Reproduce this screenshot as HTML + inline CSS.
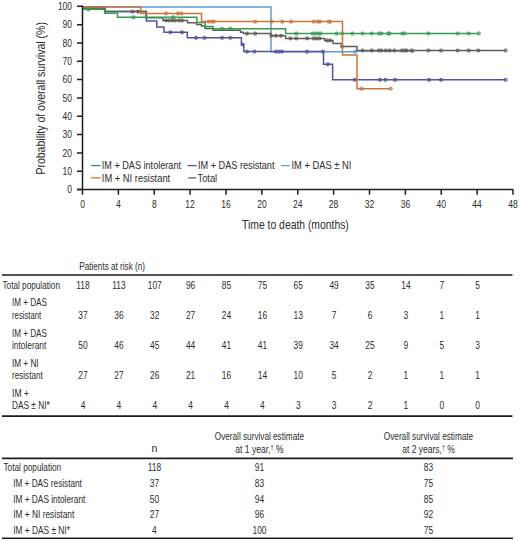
<!DOCTYPE html><html><head><meta charset="utf-8"><style>html,body{margin:0;padding:0;background:#fff;}svg{display:block;}text{font-family:"Liberation Sans",sans-serif;fill:#2c2c2c;}</style></head><body>
<svg width="520" height="541" viewBox="0 0 520 541">
<rect width="520" height="541" fill="#fff"/>
<path d="M82.5 7.0 L271.0 7.0 L271.0 51.8 L357.0 51.8 L357.0 51.0 L412.5 51.0" fill="none" stroke="#5e9fd6" stroke-width="1.5"/>
<circle cx="355" cy="51.8" r="1.6" fill="#5e9fd6" fill-opacity="0.45" stroke="#5e9fd6" stroke-width="0.9"/>
<circle cx="412.5" cy="51.0" r="1.6" fill="#5e9fd6" fill-opacity="0.45" stroke="#5e9fd6" stroke-width="0.9"/>
<path d="M82.5 7.0 L105.0 7.0 L105.0 11.6 L146.4 11.6 L146.4 21.0 L156.8 21.0 L156.8 27.0 L164.0 27.0 L164.0 32.3 L187.3 32.3 L187.3 37.8 L241.4 37.8 L241.4 44.5 L243.8 44.5 L243.8 51.6 L323.5 51.6 L323.5 64.3 L332.6 64.3 L332.6 79.8 L505.6 79.8" fill="none" stroke="#52529e" stroke-width="1.5"/>
<circle cx="132.3" cy="11.6" r="1.6" fill="#52529e" fill-opacity="0.45" stroke="#52529e" stroke-width="0.9"/>
<circle cx="170.3" cy="32.3" r="1.6" fill="#52529e" fill-opacity="0.45" stroke="#52529e" stroke-width="0.9"/>
<circle cx="182" cy="32.3" r="1.6" fill="#52529e" fill-opacity="0.45" stroke="#52529e" stroke-width="0.9"/>
<circle cx="196" cy="37.8" r="1.6" fill="#52529e" fill-opacity="0.45" stroke="#52529e" stroke-width="0.9"/>
<circle cx="204.5" cy="37.8" r="1.6" fill="#52529e" fill-opacity="0.45" stroke="#52529e" stroke-width="0.9"/>
<circle cx="222.2" cy="37.8" r="1.6" fill="#52529e" fill-opacity="0.45" stroke="#52529e" stroke-width="0.9"/>
<circle cx="230.3" cy="37.8" r="1.6" fill="#52529e" fill-opacity="0.45" stroke="#52529e" stroke-width="0.9"/>
<circle cx="242.6" cy="44.5" r="1.6" fill="#52529e" fill-opacity="0.45" stroke="#52529e" stroke-width="0.9"/>
<circle cx="247.1" cy="51.6" r="1.6" fill="#52529e" fill-opacity="0.45" stroke="#52529e" stroke-width="0.9"/>
<circle cx="254.5" cy="51.6" r="1.6" fill="#52529e" fill-opacity="0.45" stroke="#52529e" stroke-width="0.9"/>
<circle cx="276" cy="51.6" r="1.6" fill="#52529e" fill-opacity="0.45" stroke="#52529e" stroke-width="0.9"/>
<circle cx="279" cy="51.6" r="1.6" fill="#52529e" fill-opacity="0.45" stroke="#52529e" stroke-width="0.9"/>
<circle cx="282" cy="51.6" r="1.6" fill="#52529e" fill-opacity="0.45" stroke="#52529e" stroke-width="0.9"/>
<circle cx="307.1" cy="51.6" r="1.6" fill="#52529e" fill-opacity="0.45" stroke="#52529e" stroke-width="0.9"/>
<circle cx="323.0" cy="51.6" r="1.6" fill="#52529e" fill-opacity="0.45" stroke="#52529e" stroke-width="0.9"/>
<circle cx="327.8" cy="64.3" r="1.6" fill="#52529e" fill-opacity="0.45" stroke="#52529e" stroke-width="0.9"/>
<circle cx="354.6" cy="79.8" r="1.6" fill="#52529e" fill-opacity="0.45" stroke="#52529e" stroke-width="0.9"/>
<circle cx="380" cy="79.8" r="1.6" fill="#52529e" fill-opacity="0.45" stroke="#52529e" stroke-width="0.9"/>
<circle cx="385.5" cy="79.8" r="1.6" fill="#52529e" fill-opacity="0.45" stroke="#52529e" stroke-width="0.9"/>
<circle cx="395.2" cy="79.8" r="1.6" fill="#52529e" fill-opacity="0.45" stroke="#52529e" stroke-width="0.9"/>
<circle cx="429" cy="79.8" r="1.6" fill="#52529e" fill-opacity="0.45" stroke="#52529e" stroke-width="0.9"/>
<circle cx="441" cy="79.8" r="1.6" fill="#52529e" fill-opacity="0.45" stroke="#52529e" stroke-width="0.9"/>
<circle cx="505.6" cy="79.8" r="1.6" fill="#52529e" fill-opacity="0.45" stroke="#52529e" stroke-width="0.9"/>
<path d="M82.5 7.0 L84.0 7.0 L84.0 8.3 L105.0 8.3 L105.0 11.6 L146.0 11.6 L146.0 17.8 L163.0 17.8 L163.0 20.4 L187.5 20.4 L187.5 22.7 L196.5 22.7 L196.5 24.4 L201.5 24.4 L201.5 26.0 L205.0 26.0 L205.0 28.5 L213.0 28.5 L213.0 30.3 L240.5 30.3 L240.5 32.3 L243.5 32.3 L243.5 33.6 L270.8 33.6 L270.8 35.7 L285.6 35.7 L285.6 38.4 L324.6 38.4 L324.6 40.4 L333.0 40.4 L333.0 43.4 L342.0 43.4 L342.0 46.5 L357.0 46.5 L357.0 50.5 L505.6 50.5" fill="none" stroke="#625c58" stroke-width="1.5"/>
<circle cx="138" cy="11.6" r="1.6" fill="#625c58" fill-opacity="0.45" stroke="#625c58" stroke-width="0.9"/>
<circle cx="166" cy="20.4" r="1.6" fill="#625c58" fill-opacity="0.45" stroke="#625c58" stroke-width="0.9"/>
<circle cx="169" cy="20.4" r="1.6" fill="#625c58" fill-opacity="0.45" stroke="#625c58" stroke-width="0.9"/>
<circle cx="172" cy="20.4" r="1.6" fill="#625c58" fill-opacity="0.45" stroke="#625c58" stroke-width="0.9"/>
<circle cx="175" cy="20.4" r="1.6" fill="#625c58" fill-opacity="0.45" stroke="#625c58" stroke-width="0.9"/>
<circle cx="179" cy="20.4" r="1.6" fill="#625c58" fill-opacity="0.45" stroke="#625c58" stroke-width="0.9"/>
<circle cx="182" cy="20.4" r="1.6" fill="#625c58" fill-opacity="0.45" stroke="#625c58" stroke-width="0.9"/>
<circle cx="247" cy="33.6" r="1.6" fill="#625c58" fill-opacity="0.45" stroke="#625c58" stroke-width="0.9"/>
<circle cx="255.2" cy="33.6" r="1.6" fill="#625c58" fill-opacity="0.45" stroke="#625c58" stroke-width="0.9"/>
<circle cx="271.4" cy="35.7" r="1.6" fill="#625c58" fill-opacity="0.45" stroke="#625c58" stroke-width="0.9"/>
<circle cx="276" cy="35.7" r="1.6" fill="#625c58" fill-opacity="0.45" stroke="#625c58" stroke-width="0.9"/>
<circle cx="281" cy="35.7" r="1.6" fill="#625c58" fill-opacity="0.45" stroke="#625c58" stroke-width="0.9"/>
<circle cx="290.3" cy="38.4" r="1.6" fill="#625c58" fill-opacity="0.45" stroke="#625c58" stroke-width="0.9"/>
<circle cx="296.3" cy="38.4" r="1.6" fill="#625c58" fill-opacity="0.45" stroke="#625c58" stroke-width="0.9"/>
<circle cx="307.1" cy="38.4" r="1.6" fill="#625c58" fill-opacity="0.45" stroke="#625c58" stroke-width="0.9"/>
<circle cx="313.8" cy="38.4" r="1.6" fill="#625c58" fill-opacity="0.45" stroke="#625c58" stroke-width="0.9"/>
<circle cx="316.5" cy="38.4" r="1.6" fill="#625c58" fill-opacity="0.45" stroke="#625c58" stroke-width="0.9"/>
<circle cx="319.5" cy="38.4" r="1.6" fill="#625c58" fill-opacity="0.45" stroke="#625c58" stroke-width="0.9"/>
<circle cx="327" cy="40.4" r="1.6" fill="#625c58" fill-opacity="0.45" stroke="#625c58" stroke-width="0.9"/>
<circle cx="330" cy="40.4" r="1.6" fill="#625c58" fill-opacity="0.45" stroke="#625c58" stroke-width="0.9"/>
<circle cx="342" cy="46.5" r="1.6" fill="#625c58" fill-opacity="0.45" stroke="#625c58" stroke-width="0.9"/>
<circle cx="362.5" cy="50.5" r="1.6" fill="#625c58" fill-opacity="0.45" stroke="#625c58" stroke-width="0.9"/>
<circle cx="371.7" cy="50.5" r="1.6" fill="#625c58" fill-opacity="0.45" stroke="#625c58" stroke-width="0.9"/>
<circle cx="379" cy="50.5" r="1.6" fill="#625c58" fill-opacity="0.45" stroke="#625c58" stroke-width="0.9"/>
<circle cx="381.5" cy="50.5" r="1.6" fill="#625c58" fill-opacity="0.45" stroke="#625c58" stroke-width="0.9"/>
<circle cx="385.8" cy="50.5" r="1.6" fill="#625c58" fill-opacity="0.45" stroke="#625c58" stroke-width="0.9"/>
<circle cx="389.6" cy="50.5" r="1.6" fill="#625c58" fill-opacity="0.45" stroke="#625c58" stroke-width="0.9"/>
<circle cx="394.4" cy="50.5" r="1.6" fill="#625c58" fill-opacity="0.45" stroke="#625c58" stroke-width="0.9"/>
<circle cx="402" cy="50.5" r="1.6" fill="#625c58" fill-opacity="0.45" stroke="#625c58" stroke-width="0.9"/>
<circle cx="404.5" cy="50.5" r="1.6" fill="#625c58" fill-opacity="0.45" stroke="#625c58" stroke-width="0.9"/>
<circle cx="406.5" cy="50.5" r="1.6" fill="#625c58" fill-opacity="0.45" stroke="#625c58" stroke-width="0.9"/>
<circle cx="411.7" cy="50.5" r="1.6" fill="#625c58" fill-opacity="0.45" stroke="#625c58" stroke-width="0.9"/>
<circle cx="428.4" cy="50.5" r="1.6" fill="#625c58" fill-opacity="0.45" stroke="#625c58" stroke-width="0.9"/>
<circle cx="441" cy="50.5" r="1.6" fill="#625c58" fill-opacity="0.45" stroke="#625c58" stroke-width="0.9"/>
<circle cx="457.6" cy="50.5" r="1.6" fill="#625c58" fill-opacity="0.45" stroke="#625c58" stroke-width="0.9"/>
<circle cx="468.6" cy="50.5" r="1.6" fill="#625c58" fill-opacity="0.45" stroke="#625c58" stroke-width="0.9"/>
<circle cx="478.3" cy="50.5" r="1.6" fill="#625c58" fill-opacity="0.45" stroke="#625c58" stroke-width="0.9"/>
<circle cx="505.6" cy="50.5" r="1.6" fill="#625c58" fill-opacity="0.45" stroke="#625c58" stroke-width="0.9"/>
<path d="M82.5 7.0 L84.0 7.0 L84.0 9.3 L104.6 9.3 L104.6 13.2 L117.5 13.2 L117.5 17.3 L196.9 17.3 L196.9 22.5 L205.2 22.5 L205.2 26.5 L213.0 26.5 L213.0 28.8 L285.6 28.8 L285.6 33.5 L478.8 33.5" fill="none" stroke="#349c55" stroke-width="1.5"/>
<circle cx="88.5" cy="9.3" r="1.6" fill="#349c55" fill-opacity="0.45" stroke="#349c55" stroke-width="0.9"/>
<circle cx="133.5" cy="17.3" r="1.6" fill="#349c55" fill-opacity="0.45" stroke="#349c55" stroke-width="0.9"/>
<circle cx="173" cy="17.3" r="1.6" fill="#349c55" fill-opacity="0.45" stroke="#349c55" stroke-width="0.9"/>
<circle cx="222" cy="28.8" r="1.6" fill="#349c55" fill-opacity="0.45" stroke="#349c55" stroke-width="0.9"/>
<circle cx="230.3" cy="28.8" r="1.6" fill="#349c55" fill-opacity="0.45" stroke="#349c55" stroke-width="0.9"/>
<circle cx="296.3" cy="33.5" r="1.6" fill="#349c55" fill-opacity="0.45" stroke="#349c55" stroke-width="0.9"/>
<circle cx="312.5" cy="33.5" r="1.6" fill="#349c55" fill-opacity="0.45" stroke="#349c55" stroke-width="0.9"/>
<circle cx="315.5" cy="33.5" r="1.6" fill="#349c55" fill-opacity="0.45" stroke="#349c55" stroke-width="0.9"/>
<circle cx="318.5" cy="33.5" r="1.6" fill="#349c55" fill-opacity="0.45" stroke="#349c55" stroke-width="0.9"/>
<circle cx="320.6" cy="33.5" r="1.6" fill="#349c55" fill-opacity="0.45" stroke="#349c55" stroke-width="0.9"/>
<circle cx="336.6" cy="33.5" r="1.6" fill="#349c55" fill-opacity="0.45" stroke="#349c55" stroke-width="0.9"/>
<circle cx="342.2" cy="33.5" r="1.6" fill="#349c55" fill-opacity="0.45" stroke="#349c55" stroke-width="0.9"/>
<circle cx="352.3" cy="33.5" r="1.6" fill="#349c55" fill-opacity="0.45" stroke="#349c55" stroke-width="0.9"/>
<circle cx="362.5" cy="33.5" r="1.6" fill="#349c55" fill-opacity="0.45" stroke="#349c55" stroke-width="0.9"/>
<circle cx="371.7" cy="33.5" r="1.6" fill="#349c55" fill-opacity="0.45" stroke="#349c55" stroke-width="0.9"/>
<circle cx="379.1" cy="33.5" r="1.6" fill="#349c55" fill-opacity="0.45" stroke="#349c55" stroke-width="0.9"/>
<circle cx="381.5" cy="33.5" r="1.6" fill="#349c55" fill-opacity="0.45" stroke="#349c55" stroke-width="0.9"/>
<circle cx="388.3" cy="33.5" r="1.6" fill="#349c55" fill-opacity="0.45" stroke="#349c55" stroke-width="0.9"/>
<circle cx="389.6" cy="33.5" r="1.6" fill="#349c55" fill-opacity="0.45" stroke="#349c55" stroke-width="0.9"/>
<circle cx="402.2" cy="33.5" r="1.6" fill="#349c55" fill-opacity="0.45" stroke="#349c55" stroke-width="0.9"/>
<circle cx="404.5" cy="33.5" r="1.6" fill="#349c55" fill-opacity="0.45" stroke="#349c55" stroke-width="0.9"/>
<circle cx="428.4" cy="33.5" r="1.6" fill="#349c55" fill-opacity="0.45" stroke="#349c55" stroke-width="0.9"/>
<circle cx="457.6" cy="33.5" r="1.6" fill="#349c55" fill-opacity="0.45" stroke="#349c55" stroke-width="0.9"/>
<circle cx="468.6" cy="33.5" r="1.6" fill="#349c55" fill-opacity="0.45" stroke="#349c55" stroke-width="0.9"/>
<circle cx="478.8" cy="33.5" r="1.6" fill="#349c55" fill-opacity="0.45" stroke="#349c55" stroke-width="0.9"/>
<path d="M82.5 7.0 L140.8 7.0 L140.8 13.4 L201.5 13.4 L201.5 21.6 L342.5 21.6 L342.5 55.0 L357.0 55.0 L357.0 88.7 L390.7 88.7" fill="none" stroke="#d0743c" stroke-width="1.5"/>
<circle cx="166" cy="13.4" r="1.6" fill="#d0743c" fill-opacity="0.45" stroke="#d0743c" stroke-width="0.9"/>
<circle cx="178" cy="13.4" r="1.6" fill="#d0743c" fill-opacity="0.45" stroke="#d0743c" stroke-width="0.9"/>
<circle cx="181.3" cy="13.4" r="1.6" fill="#d0743c" fill-opacity="0.45" stroke="#d0743c" stroke-width="0.9"/>
<circle cx="208.5" cy="21.6" r="1.6" fill="#d0743c" fill-opacity="0.45" stroke="#d0743c" stroke-width="0.9"/>
<circle cx="211.5" cy="21.6" r="1.6" fill="#d0743c" fill-opacity="0.45" stroke="#d0743c" stroke-width="0.9"/>
<circle cx="213.8" cy="21.6" r="1.6" fill="#d0743c" fill-opacity="0.45" stroke="#d0743c" stroke-width="0.9"/>
<circle cx="255.2" cy="21.6" r="1.6" fill="#d0743c" fill-opacity="0.45" stroke="#d0743c" stroke-width="0.9"/>
<circle cx="271.4" cy="21.6" r="1.6" fill="#d0743c" fill-opacity="0.45" stroke="#d0743c" stroke-width="0.9"/>
<circle cx="282.2" cy="21.6" r="1.6" fill="#d0743c" fill-opacity="0.45" stroke="#d0743c" stroke-width="0.9"/>
<circle cx="291" cy="21.6" r="1.6" fill="#d0743c" fill-opacity="0.45" stroke="#d0743c" stroke-width="0.9"/>
<circle cx="313.8" cy="21.6" r="1.6" fill="#d0743c" fill-opacity="0.45" stroke="#d0743c" stroke-width="0.9"/>
<circle cx="317.9" cy="21.6" r="1.6" fill="#d0743c" fill-opacity="0.45" stroke="#d0743c" stroke-width="0.9"/>
<circle cx="320" cy="21.6" r="1.6" fill="#d0743c" fill-opacity="0.45" stroke="#d0743c" stroke-width="0.9"/>
<circle cx="328.6" cy="21.6" r="1.6" fill="#d0743c" fill-opacity="0.45" stroke="#d0743c" stroke-width="0.9"/>
<circle cx="330.2" cy="21.6" r="1.6" fill="#d0743c" fill-opacity="0.45" stroke="#d0743c" stroke-width="0.9"/>
<circle cx="361.6" cy="88.7" r="1.6" fill="#d0743c" fill-opacity="0.45" stroke="#d0743c" stroke-width="0.9"/>
<circle cx="390.7" cy="88.7" r="1.6" fill="#d0743c" fill-opacity="0.45" stroke="#d0743c" stroke-width="0.9"/>
<path d="M82.5 5.600000000000011 L82.5 189.6 M77.0 189.6 L513.1 189.6" fill="none" stroke="#1e1e1e" stroke-width="1.5"/>
<path d="M77.0 189.60 L82.5 189.60 M77.0 171.27 L82.5 171.27 M77.0 152.94 L82.5 152.94 M77.0 134.61 L82.5 134.61 M77.0 116.28 L82.5 116.28 M77.0 97.95 L82.5 97.95 M77.0 79.62 L82.5 79.62 M77.0 61.29 L82.5 61.29 M77.0 42.96 L82.5 42.96 M77.0 24.63 L82.5 24.63 M77.0 6.30 L82.5 6.30 M82.50 189.6 L82.50 194.79999999999998 M118.38 189.6 L118.38 194.79999999999998 M154.25 189.6 L154.25 194.79999999999998 M190.12 189.6 L190.12 194.79999999999998 M226.00 189.6 L226.00 194.79999999999998 M261.88 189.6 L261.88 194.79999999999998 M297.75 189.6 L297.75 194.79999999999998 M333.62 189.6 L333.62 194.79999999999998 M369.50 189.6 L369.50 194.79999999999998 M405.38 189.6 L405.38 194.79999999999998 M441.25 189.6 L441.25 194.79999999999998 M477.12 189.6 L477.12 194.79999999999998 M513.00 189.6 L513.00 194.79999999999998 " fill="none" stroke="#1e1e1e" stroke-width="1.5"/>
<text transform="translate(72.0,193.4) scale(0.8,1)" font-size="10.6" text-anchor="end">0</text>
<text transform="translate(72.0,175.07) scale(0.8,1)" font-size="10.6" text-anchor="end">10</text>
<text transform="translate(72.0,156.74) scale(0.8,1)" font-size="10.6" text-anchor="end">20</text>
<text transform="translate(72.0,138.41) scale(0.8,1)" font-size="10.6" text-anchor="end">30</text>
<text transform="translate(72.0,120.08) scale(0.8,1)" font-size="10.6" text-anchor="end">40</text>
<text transform="translate(72.0,101.75) scale(0.8,1)" font-size="10.6" text-anchor="end">50</text>
<text transform="translate(72.0,83.42) scale(0.8,1)" font-size="10.6" text-anchor="end">60</text>
<text transform="translate(72.0,65.09) scale(0.8,1)" font-size="10.6" text-anchor="end">70</text>
<text transform="translate(72.0,46.76) scale(0.8,1)" font-size="10.6" text-anchor="end">80</text>
<text transform="translate(72.0,28.43) scale(0.8,1)" font-size="10.6" text-anchor="end">90</text>
<text transform="translate(72.0,10.1) scale(0.8,1)" font-size="10.6" text-anchor="end">100</text>
<text transform="translate(82.5,207.7) scale(0.8,1)" font-size="10.7" text-anchor="middle">0</text>
<text transform="translate(118.38,207.7) scale(0.8,1)" font-size="10.7" text-anchor="middle">4</text>
<text transform="translate(154.25,207.7) scale(0.8,1)" font-size="10.7" text-anchor="middle">8</text>
<text transform="translate(190.12,207.7) scale(0.8,1)" font-size="10.7" text-anchor="middle">12</text>
<text transform="translate(226.0,207.7) scale(0.8,1)" font-size="10.7" text-anchor="middle">16</text>
<text transform="translate(261.88,207.7) scale(0.8,1)" font-size="10.7" text-anchor="middle">20</text>
<text transform="translate(297.75,207.7) scale(0.8,1)" font-size="10.7" text-anchor="middle">24</text>
<text transform="translate(333.62,207.7) scale(0.8,1)" font-size="10.7" text-anchor="middle">28</text>
<text transform="translate(369.5,207.7) scale(0.8,1)" font-size="10.7" text-anchor="middle">32</text>
<text transform="translate(405.38,207.7) scale(0.8,1)" font-size="10.7" text-anchor="middle">36</text>
<text transform="translate(441.25,207.7) scale(0.8,1)" font-size="10.7" text-anchor="middle">40</text>
<text transform="translate(477.12,207.7) scale(0.8,1)" font-size="10.7" text-anchor="middle">44</text>
<text transform="translate(513.0,207.7) scale(0.8,1)" font-size="10.7" text-anchor="middle">48</text>
<g transform="translate(44.9,174.6) rotate(-90)"><text x="0" y="0" font-size="12.4" text-anchor="start" textLength="152.5" lengthAdjust="spacingAndGlyphs">Probability of overall survival (%)</text></g>
<text x="242.1" y="228.7" font-size="12.5" text-anchor="start" textLength="106.7" lengthAdjust="spacingAndGlyphs">Time to death (months)</text>
<path d="M91 165.6 L100.6 165.6" stroke="#349c55" stroke-width="1.3"/>
<text x="101.8" y="169.2" font-size="10.3" text-anchor="start" textLength="79.2" lengthAdjust="spacingAndGlyphs">IM + DAS intolerant</text>
<path d="M187.6 165.6 L196.6 165.6" stroke="#52529e" stroke-width="1.3"/>
<text x="198.0" y="169.2" font-size="10.3" text-anchor="start" textLength="76.5" lengthAdjust="spacingAndGlyphs">IM + DAS resistant</text>
<path d="M281 165.6 L290 165.6" stroke="#5e9fd6" stroke-width="1.3"/>
<text x="291.5" y="169.2" font-size="10.3" text-anchor="start" textLength="59.8" lengthAdjust="spacingAndGlyphs">IM + DAS ± NI</text>
<path d="M91 177.9 L100.6 177.9" stroke="#d0743c" stroke-width="1.3"/>
<text x="101.8" y="181.6" font-size="10.3" text-anchor="start" textLength="68.4" lengthAdjust="spacingAndGlyphs">IM + NI resistant</text>
<path d="M188.3 177.9 L196.2 177.9" stroke="#625c58" stroke-width="1.3"/>
<text x="197.5" y="181.6" font-size="10.3" text-anchor="start" textLength="19.6" lengthAdjust="spacingAndGlyphs">Total</text>
<text x="79.25" y="269.8" font-size="10.5" text-anchor="start" textLength="65.75" lengthAdjust="spacingAndGlyphs">Patients at risk (n)</text>
<path d="M2 275.0 L512.5 275.0 M2 416.1 L512.5 416.1" stroke="#1e1e1e" stroke-width="1.6"/>
<text x="2.5" y="289.1" font-size="10.5" text-anchor="start" textLength="57.5" lengthAdjust="spacingAndGlyphs">Total population</text>
<text transform="translate(83.0,289.1) scale(0.8,1)" font-size="10.5" text-anchor="middle">118</text>
<text transform="translate(118.88,289.1) scale(0.8,1)" font-size="10.5" text-anchor="middle">113</text>
<text transform="translate(154.75,289.1) scale(0.8,1)" font-size="10.5" text-anchor="middle">107</text>
<text transform="translate(190.62,289.1) scale(0.8,1)" font-size="10.5" text-anchor="middle">96</text>
<text transform="translate(226.5,289.1) scale(0.8,1)" font-size="10.5" text-anchor="middle">85</text>
<text transform="translate(262.38,289.1) scale(0.8,1)" font-size="10.5" text-anchor="middle">75</text>
<text transform="translate(298.25,289.1) scale(0.8,1)" font-size="10.5" text-anchor="middle">65</text>
<text transform="translate(334.12,289.1) scale(0.8,1)" font-size="10.5" text-anchor="middle">49</text>
<text transform="translate(370.0,289.1) scale(0.8,1)" font-size="10.5" text-anchor="middle">35</text>
<text transform="translate(405.88,289.1) scale(0.8,1)" font-size="10.5" text-anchor="middle">14</text>
<text transform="translate(441.75,289.1) scale(0.8,1)" font-size="10.5" text-anchor="middle">7</text>
<text transform="translate(477.62,289.1) scale(0.8,1)" font-size="10.5" text-anchor="middle">5</text>
<text x="12" y="306.3" font-size="10.5" text-anchor="start" textLength="34.8" lengthAdjust="spacingAndGlyphs">IM + DAS</text>
<text x="12" y="318.7" font-size="10.5" text-anchor="start" textLength="29.25" lengthAdjust="spacingAndGlyphs">resistant</text>
<text transform="translate(83.0,318.7) scale(0.8,1)" font-size="10.5" text-anchor="middle">37</text>
<text transform="translate(118.88,318.7) scale(0.8,1)" font-size="10.5" text-anchor="middle">36</text>
<text transform="translate(154.75,318.7) scale(0.8,1)" font-size="10.5" text-anchor="middle">32</text>
<text transform="translate(190.62,318.7) scale(0.8,1)" font-size="10.5" text-anchor="middle">27</text>
<text transform="translate(226.5,318.7) scale(0.8,1)" font-size="10.5" text-anchor="middle">24</text>
<text transform="translate(262.38,318.7) scale(0.8,1)" font-size="10.5" text-anchor="middle">16</text>
<text transform="translate(298.25,318.7) scale(0.8,1)" font-size="10.5" text-anchor="middle">13</text>
<text transform="translate(334.12,318.7) scale(0.8,1)" font-size="10.5" text-anchor="middle">7</text>
<text transform="translate(370.0,318.7) scale(0.8,1)" font-size="10.5" text-anchor="middle">6</text>
<text transform="translate(405.88,318.7) scale(0.8,1)" font-size="10.5" text-anchor="middle">3</text>
<text transform="translate(441.75,318.7) scale(0.8,1)" font-size="10.5" text-anchor="middle">1</text>
<text transform="translate(477.62,318.7) scale(0.8,1)" font-size="10.5" text-anchor="middle">1</text>
<text x="12" y="336.5" font-size="10.5" text-anchor="start" textLength="34.8" lengthAdjust="spacingAndGlyphs">IM + DAS</text>
<text x="12" y="349.0" font-size="10.5" text-anchor="start" textLength="34.3" lengthAdjust="spacingAndGlyphs">intolerant</text>
<text transform="translate(83.0,349.0) scale(0.8,1)" font-size="10.5" text-anchor="middle">50</text>
<text transform="translate(118.88,349.0) scale(0.8,1)" font-size="10.5" text-anchor="middle">46</text>
<text transform="translate(154.75,349.0) scale(0.8,1)" font-size="10.5" text-anchor="middle">45</text>
<text transform="translate(190.62,349.0) scale(0.8,1)" font-size="10.5" text-anchor="middle">44</text>
<text transform="translate(226.5,349.0) scale(0.8,1)" font-size="10.5" text-anchor="middle">41</text>
<text transform="translate(262.38,349.0) scale(0.8,1)" font-size="10.5" text-anchor="middle">41</text>
<text transform="translate(298.25,349.0) scale(0.8,1)" font-size="10.5" text-anchor="middle">39</text>
<text transform="translate(334.12,349.0) scale(0.8,1)" font-size="10.5" text-anchor="middle">34</text>
<text transform="translate(370.0,349.0) scale(0.8,1)" font-size="10.5" text-anchor="middle">25</text>
<text transform="translate(405.88,349.0) scale(0.8,1)" font-size="10.5" text-anchor="middle">9</text>
<text transform="translate(441.75,349.0) scale(0.8,1)" font-size="10.5" text-anchor="middle">5</text>
<text transform="translate(477.62,349.0) scale(0.8,1)" font-size="10.5" text-anchor="middle">3</text>
<text x="12" y="366.6" font-size="10.5" text-anchor="start" textLength="26.6" lengthAdjust="spacingAndGlyphs">IM + NI</text>
<text x="12" y="379.0" font-size="10.5" text-anchor="start" textLength="30.7" lengthAdjust="spacingAndGlyphs">resistant</text>
<text transform="translate(83.0,379.0) scale(0.8,1)" font-size="10.5" text-anchor="middle">27</text>
<text transform="translate(118.88,379.0) scale(0.8,1)" font-size="10.5" text-anchor="middle">27</text>
<text transform="translate(154.75,379.0) scale(0.8,1)" font-size="10.5" text-anchor="middle">26</text>
<text transform="translate(190.62,379.0) scale(0.8,1)" font-size="10.5" text-anchor="middle">21</text>
<text transform="translate(226.5,379.0) scale(0.8,1)" font-size="10.5" text-anchor="middle">16</text>
<text transform="translate(262.38,379.0) scale(0.8,1)" font-size="10.5" text-anchor="middle">14</text>
<text transform="translate(298.25,379.0) scale(0.8,1)" font-size="10.5" text-anchor="middle">10</text>
<text transform="translate(334.12,379.0) scale(0.8,1)" font-size="10.5" text-anchor="middle">5</text>
<text transform="translate(370.0,379.0) scale(0.8,1)" font-size="10.5" text-anchor="middle">2</text>
<text transform="translate(405.88,379.0) scale(0.8,1)" font-size="10.5" text-anchor="middle">1</text>
<text transform="translate(441.75,379.0) scale(0.8,1)" font-size="10.5" text-anchor="middle">1</text>
<text transform="translate(477.62,379.0) scale(0.8,1)" font-size="10.5" text-anchor="middle">1</text>
<text x="12" y="396.6" font-size="10.5" text-anchor="start" textLength="16.9" lengthAdjust="spacingAndGlyphs">IM +</text>
<text x="12" y="409.0" font-size="10.5" text-anchor="start" textLength="37.7" lengthAdjust="spacingAndGlyphs">DAS ± NI*</text>
<text transform="translate(83.0,409.0) scale(0.8,1)" font-size="10.5" text-anchor="middle">4</text>
<text transform="translate(118.88,409.0) scale(0.8,1)" font-size="10.5" text-anchor="middle">4</text>
<text transform="translate(154.75,409.0) scale(0.8,1)" font-size="10.5" text-anchor="middle">4</text>
<text transform="translate(190.62,409.0) scale(0.8,1)" font-size="10.5" text-anchor="middle">4</text>
<text transform="translate(226.5,409.0) scale(0.8,1)" font-size="10.5" text-anchor="middle">4</text>
<text transform="translate(262.38,409.0) scale(0.8,1)" font-size="10.5" text-anchor="middle">4</text>
<text transform="translate(298.25,409.0) scale(0.8,1)" font-size="10.5" text-anchor="middle">3</text>
<text transform="translate(334.12,409.0) scale(0.8,1)" font-size="10.5" text-anchor="middle">3</text>
<text transform="translate(370.0,409.0) scale(0.8,1)" font-size="10.5" text-anchor="middle">2</text>
<text transform="translate(405.88,409.0) scale(0.8,1)" font-size="10.5" text-anchor="middle">1</text>
<text transform="translate(441.75,409.0) scale(0.8,1)" font-size="10.5" text-anchor="middle">0</text>
<text transform="translate(477.62,409.0) scale(0.8,1)" font-size="10.5" text-anchor="middle">0</text>
<text x="154.3" y="451.7" font-size="10.5" text-anchor="middle">n</text>
<text x="214.75" y="439.8" font-size="10.5" text-anchor="start" textLength="89.3" lengthAdjust="spacingAndGlyphs">Overall survival estimate</text>
<text x="235.2" y="453.0" font-size="10.5" textLength="48.4" lengthAdjust="spacingAndGlyphs">at 1 year,<tspan font-size="6.5" dy="-3.5">†</tspan><tspan dy="3.5"> %</tspan></text>
<text x="383.85" y="439.8" font-size="10.5" text-anchor="start" textLength="89.3" lengthAdjust="spacingAndGlyphs">Overall survival estimate</text>
<text x="402.25" y="453.0" font-size="10.5" textLength="52.5" lengthAdjust="spacingAndGlyphs">at 2 years,<tspan font-size="6.5" dy="-3.5">†</tspan><tspan dy="3.5"> %</tspan></text>
<path d="M2 458.4 L513 458.4 M2 538.3 L513 538.3" stroke="#1e1e1e" stroke-width="1.6"/>
<text x="3.5" y="470.9" font-size="10.5" text-anchor="start" textLength="57.7" lengthAdjust="spacingAndGlyphs">Total population</text>
<text transform="translate(154.4,470.9) scale(0.8,1)" font-size="10.5" text-anchor="middle">118</text>
<text transform="translate(259.5,470.9) scale(0.8,1)" font-size="10.5" text-anchor="middle">91</text>
<text transform="translate(428.4,470.9) scale(0.8,1)" font-size="10.5" text-anchor="middle">83</text>
<text x="13.2" y="486.9" font-size="10.5" text-anchor="start" textLength="68.7" lengthAdjust="spacingAndGlyphs">IM + DAS resistant</text>
<text transform="translate(154.4,486.9) scale(0.8,1)" font-size="10.5" text-anchor="middle">37</text>
<text transform="translate(259.5,486.9) scale(0.8,1)" font-size="10.5" text-anchor="middle">83</text>
<text transform="translate(428.4,486.9) scale(0.8,1)" font-size="10.5" text-anchor="middle">75</text>
<text x="13.2" y="502.7" font-size="10.5" text-anchor="start" textLength="72.2" lengthAdjust="spacingAndGlyphs">IM + DAS intolerant</text>
<text transform="translate(154.4,502.7) scale(0.8,1)" font-size="10.5" text-anchor="middle">50</text>
<text transform="translate(259.5,502.7) scale(0.8,1)" font-size="10.5" text-anchor="middle">94</text>
<text transform="translate(428.4,502.7) scale(0.8,1)" font-size="10.5" text-anchor="middle">85</text>
<text x="13.2" y="518.4" font-size="10.5" text-anchor="start" textLength="61.1" lengthAdjust="spacingAndGlyphs">IM + NI resistant</text>
<text transform="translate(154.4,518.4) scale(0.8,1)" font-size="10.5" text-anchor="middle">27</text>
<text transform="translate(259.5,518.4) scale(0.8,1)" font-size="10.5" text-anchor="middle">96</text>
<text transform="translate(428.4,518.4) scale(0.8,1)" font-size="10.5" text-anchor="middle">92</text>
<text x="13.2" y="534.0" font-size="10.5" text-anchor="start" textLength="56.7" lengthAdjust="spacingAndGlyphs">IM + DAS ± NI*</text>
<text transform="translate(154.4,534.0) scale(0.8,1)" font-size="10.5" text-anchor="middle">4</text>
<text transform="translate(259.5,534.0) scale(0.8,1)" font-size="10.5" text-anchor="middle">100</text>
<text transform="translate(428.4,534.0) scale(0.8,1)" font-size="10.5" text-anchor="middle">75</text>
</svg></body></html>
